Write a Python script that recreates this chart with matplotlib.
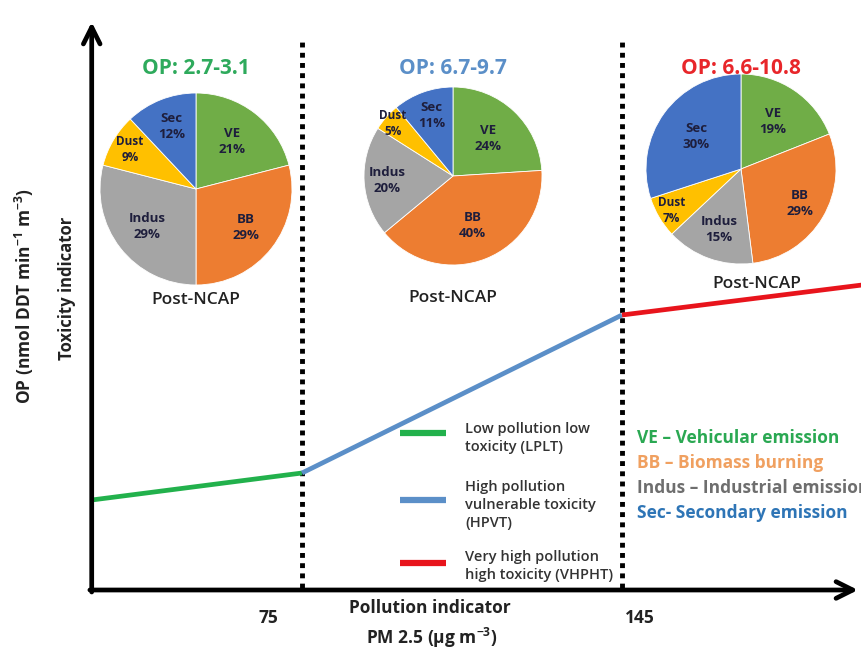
import matplotlib.pyplot as plt
from matplotlib.lines import Line2D
import numpy as np

plt.rcParams['font.family'] = ['Open Sans', 'DejaVu Sans']
plt.rcParams['mathtext.fontset'] = 'custom'
plt.rcParams['mathtext.rm'] = 'Open Sans:bold'
plt.rcParams['mathtext.it'] = 'Open Sans:bold'
plt.rcParams['mathtext.bf'] = 'Open Sans:bold'

# ── data ─────────────────────────────────────────────────────────────
pm_break = [29.0, 75.0, 145.0, 197.5]     # PM2.5 (µg m-3) breakpoints
op_level = [1.8, 2.34, 5.5, 6.1]          # toxicity indicator (arb.)
x_ticks = [75, 145]

sources = ['VE', 'BB', 'Indus', 'Dust', 'Sec']
share_lplt = [21, 29, 29, 9, 12]
share_hpvt = [24, 40, 20, 5, 11]
share_vhpht = [19, 29, 15, 7, 30]
op_ranges = ['OP: 2.7-3.1', 'OP: 6.7-9.7', 'OP: 6.6-10.8']

regime_labels = ['Low pollution low\ntoxicity (LPLT)',
                 'High pollution\nvulnerable toxicity\n(HPVT)',
                 'Very high pollution\nhigh toxicity (VHPHT)']
source_names = ['VE – Vehicular emission', 'BB – Biomass burning',
                'Indus – Industrial emission', 'Sec- Secondary emission']

# ── styles ───────────────────────────────────────────────────────────
seg_colors = ['#22B14C', '#5B8FC8', '#E8141C']
title_colors = ['#2EAA5C', '#5B8FC8', '#E8262A']
pie_colors = ['#70AD47', '#ED7D31', '#A5A5A5', '#FFC000', '#4472C4']
name_colors = ['#2AA852', '#F0A060', '#6E6E6E', '#2E75B6']

W, H = 862, 654
fig = plt.figure(figsize=(W / 100, H / 100), dpi=100)

# main axes spans the whole canvas; limits put 75 -> 302 px and 145 -> 622 px
s = 320 / 70.0            # px per PM unit
k = 50.0                  # px per OP unit
x0 = 75 - 302 / s
ax = fig.add_axes([0, 0, 1, 1])
ax.set_xlim(x0, x0 + W / s)
ax.set_ylim(-(H - 590) / k, 590 / k)
ax.axis('off')

# axes arrows
xa = pm_break[0]
ax.annotate('', xy=(x0 + 858 / s, 0), xytext=(xa - 0.4, 0),
            arrowprops=dict(arrowstyle='->', lw=3.4, color='black',
                            mutation_scale=30, shrinkA=0, shrinkB=0))
ax.annotate('', xy=(xa, (590 - 22) / k), xytext=(xa, -0.04),
            arrowprops=dict(arrowstyle='->', lw=3.4, color='black',
                            mutation_scale=30, shrinkA=0, shrinkB=0))

# dotted regime boundaries
for xv in x_ticks:
    ax.plot([xv, xv], [0.05, (590 - 42) / k], color='black', lw=3.5,
            ls=(0, (1, 1.1)), solid_capstyle='butt')

# toxicity regime segments
for i in range(3):
    ax.plot(pm_break[i:i + 2], op_level[i:i + 2], color=seg_colors[i],
            lw=3.4, solid_capstyle='butt')

# tick labels
for xv, dx in zip(x_ticks, [-34, 18]):
    ax.annotate(str(xv), xy=(xv, 0), xytext=(dx, -28), textcoords='offset pixels',
                ha='center', va='center', fontsize=12.5, fontweight='bold', color='#222222')

fig.text(430 / W, 1 - 608 / H, 'Pollution indicator', ha='center', va='center',
         fontsize=12.5, fontweight='bold', color='#222222')
fig.text(432 / W, 1 - 638 / H, 'PM 2.5 (μg m$^{-3}$)', ha='center', va='center',
         fontsize=12.5, fontweight='bold', color='#222222')
fig.text(67 / W, 1 - 288 / H, 'Toxicity indicator', rotation=90, ha='center',
         va='center', fontsize=12, fontweight='bold', color='#222222')
fig.text(24 / W, 1 - 296 / H, 'OP (nmol DDT min$^{-1}$ m$^{-3}$)', rotation=90,
         ha='center', va='center', fontsize=12.5, fontweight='bold', color='#222222')

# ── pies ─────────────────────────────────────────────────────────────
pie_layout = [  # centre x, centre y, radius (px), label distances
    (196, 189, 96, [0.62, 0.66, 0.64, 0.80, 0.70]),
    (453, 176, 89, [0.58, 0.60, 0.74, 0.90, 0.72]),
    (741, 169, 95, [0.60, 0.72, 0.68, 0.85, 0.58]),
]
post_pos = [(196, 300), (453, 298), (757, 284)]

for shares, title, tcol, (cx, cy, r, dists), (px, py) in zip(
        [share_lplt, share_hpvt, share_vhpht], op_ranges, title_colors,
        pie_layout, post_pos):
    pa = fig.add_axes([(cx - r) / W, 1 - (cy + r) / H, 2 * r / W, 2 * r / H])
    wedges, _ = pa.pie(shares, colors=pie_colors, startangle=90, counterclock=False,
                       radius=1, wedgeprops=dict(linewidth=0.6, edgecolor='white'))
    pa.set_xlim(-1, 1)
    pa.set_ylim(-1, 1)
    pa.set_aspect('equal')
    for w, name, v, d in zip(wedges, sources, shares, dists):
        ang = np.deg2rad((w.theta1 + w.theta2) / 2)
        fs = 8.5 if name == 'Dust' else 9.5
        pa.text(d * np.cos(ang), d * np.sin(ang), f'{name}\n{v}%', ha='center',
                va='center', fontsize=fs, fontweight='bold', color='#1E1E3C',
                linespacing=1.3)
    fig.text(cx / W, 1 - 68 / H, title, ha='center', va='center', fontsize=15,
             fontweight='bold', color=tcol)
    fig.text(px / W, 1 - py / H, 'Post-NCAP', ha='center', va='center',
             fontsize=12.5, fontweight='semibold', color='#222222')

# ── regime legend ────────────────────────────────────────────────────
for col, lab, ly, ty in zip(seg_colors, regime_labels, [433, 500, 563], [438, 505, 566]):
    fig.add_artist(Line2D([400 / W, 446 / W], [1 - ly / H, 1 - ly / H], color=col,
                          lw=4.5, solid_capstyle='butt'))
    fig.text(465 / W, 1 - ty / H, lab, ha='left', va='center', fontsize=10.5,
             fontweight='semibold', color='#333333', linespacing=1.35)

# ── source legend ────────────────────────────────────────────────────
for i, (lab, col) in enumerate(zip(source_names, name_colors)):
    fig.text(637 / W, 1 - (438 + 25 * i) / H, lab, ha='left', va='center',
             fontsize=12.5, fontweight='bold', color=col)

fig.savefig('out.png', dpi=100)
